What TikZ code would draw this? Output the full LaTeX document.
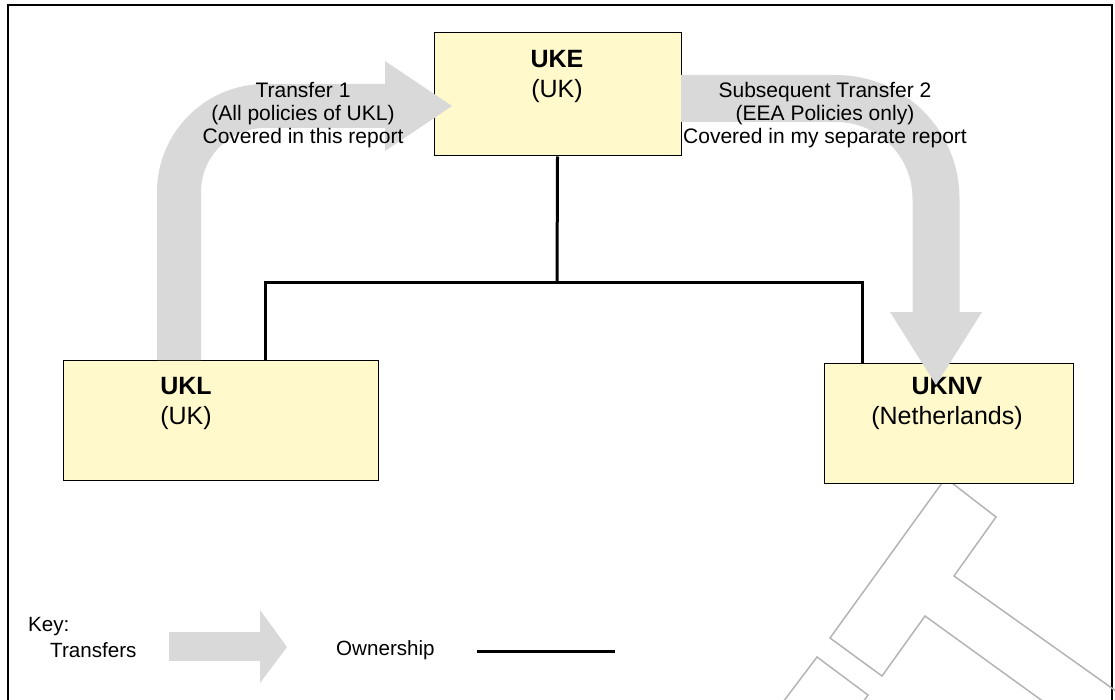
\documentclass[tikz,border=0pt]{standalone}
\usepackage{fontspec}
\setmainfont{Liberation Sans}
\usepackage{tikz}
\definecolor{boxyellow}{RGB}{255,249,204}
\definecolor{transfergray}{RGB}{217,217,217}
\definecolor{sketchgray}{RGB}{180,180,180}
\tikzset{
	every text node part/.style= {
		align=center
	},
	entity/.style= {
		rectangle,
		draw=black,
		line width=1pt,
		fill=boxyellow
	},
	entityname/.style= {
		font=\fontsize{25}{30}\selectfont
	},
	caption/.style= {
		font=\fontsize{21}{23}\selectfont
	},
	keytext/.style= {
		anchor=west,
		inner sep=0pt,
		font=\fontsize{20.6}{24}\selectfont
	},
	transfer/.style= {
		draw=transfergray,
		line width=44pt
	},
	transferhead/.style= {
		fill=transfergray
	},
	ownership/.style= {
		draw=black,
		line width=3pt
	},
	sketch/.style= {
		draw=sketchgray,
		line width=1.5pt
	}
}

\begin{document}
\begin{tikzpicture}[x=1pt, y=-1pt]
		\useasboundingbox (0,0) rectangle (1115,700);
		\clip (0,0) rectangle (1115,700);
		\draw[line width=2pt] (8,710) |- (1112,5) -- (1112,710);
		
		% faint outline in the corner
		\draw[sketch] (942,483) -- (830,638) -- (882,676) -- (925,616) -- (1055,710);
		\draw[sketch] (952,483) -- (996,517) -- (954,576) -- (1130,701);
		\draw[sketch] (780,706) -- (817,657) -- (868,695) -- (860,706);
		
		\node (uke)[entity, minimum width=247pt, minimum height=123pt] at (557.5,94.5) {};
		\node (ukl)[entity, minimum width=315pt, minimum height=120pt] at (220.5,420) {};
		\node (uknv)[entity, minimum width=249pt, minimum height=120pt] at (948.5,423) {};
		
		\node (ukename)[entityname] at (557,76) {\textbf{UKE}\\(UK)};
		\node (uklname)[entityname] at (186,403) {\textbf{UKL}\\(UK)};
		\node (uknvname)[entityname] at (947,403) {\textbf{UKNV}\\(Netherlands)};
		
		% ownership
		\coordinate (junction) at (557,283);
		\coordinate (lefttee) at (265,283);
		\coordinate (righttee) at (862,283);
		\draw[ownership] (uke.south) -- (junction);
		\draw[ownership] (lefttee |- ukl.north) -- (lefttee) -- (righttee) -- (righttee |- uknv.north);
		
		% transfers
		\coordinate (tailone) at (179,360);
		\coordinate (bendone) at (179,106);
		\coordinate (headone) at (386,106);
		\draw[transfer, rounded corners=86pt] (tailone) -- (bendone) -- (headone);
		\fill[transferhead] (385,61) -- (452,106) -- (385,151) -- cycle;
		
		\coordinate (tailtwo) at (681,98.5);
		\coordinate (bendtwo) at (936,98.5);
		\coordinate (headtwo) at (936,313);
		\draw[transfer, line width=47pt, rounded corners=100pt] (tailtwo) -- (bendtwo) -- (headtwo);
		\fill[transferhead] (890,312) -- (936,385) -- (982,312) -- cycle;
		
		\node (transferone)[caption] at (303,115) {Transfer 1\\(All policies of UKL)\\Covered in this report};
		\node (transfertwo)[caption] at (825,115) {Subsequent Transfer 2\\(EEA Policies only)\\Covered in my separate report};
		
		% key
		\node (keytitle)[keytext] at (28,627) {Key:};
		\node (keytransfers)[keytext] at (50,650) {Transfers};
		\coordinate (keytail) at (169,646.5);
		\coordinate (keyhead) at (261,646.5);
		\draw[transfer, line width=29pt] (keytail) -- (keyhead);
		\fill[transferhead] (260,610) -- (287,647) -- (260,683) -- cycle;
		\node (keyownership)[keytext] at (336,650) {Ownership};
		\coordinate (ownstart) at (477,651);
		\coordinate (ownend) at (615,651);
		\draw[ownership] (ownstart) -- (ownend);
	\end{tikzpicture}
\end{document}
